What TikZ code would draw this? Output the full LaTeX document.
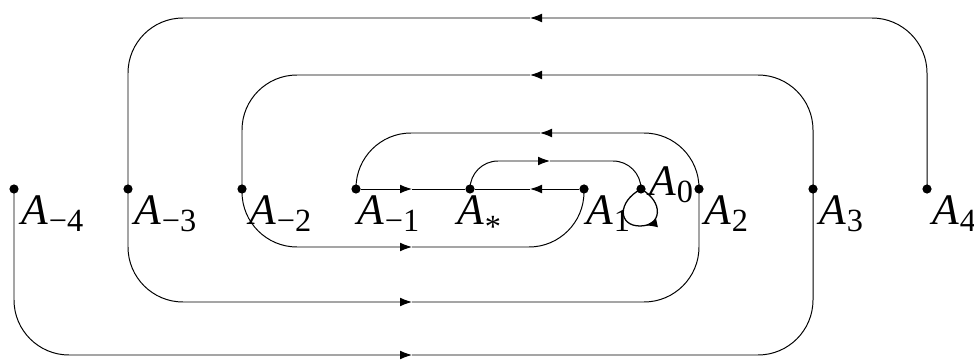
\documentclass[tikz,border=0pt]{standalone}
\usepackage{fontspec}
\setmainfont{Liberation Serif}
\usetikzlibrary{arrows.meta,decorations.markings}
\newcommand{\Alab}[2][-4.5pt]{\textit{A}\kern0.5pt\raisebox{#1}{\fontsize{23}{23}\selectfont #2}}
\begin{document}
\begin{tikzpicture}[x=0.025cm,y=-0.025cm,
  dot/.style={circle,fill=black,inner sep=0pt,minimum size=2.3mm},
  lab/.style={anchor=base west,inner sep=0pt,font=\fontsize{31}{33}\selectfont},
  wire/.style={line width=0.7pt,black},
  big/.style={wire,rounded corners=1.375cm},
  small/.style={wire,rounded corners=0.7cm},
  arrowend/.style={-{Latex[length=3mm,width=2.2mm]}},
  loopmark/.style={postaction={decorate},decoration={markings,mark=at position 0.45 with {\arrow{Latex[length=3mm,width=2.2mm]}}}}]
\useasboundingbox (0,0) rectangle (974,360);
% vertices
\node[dot] (Am4) at (14,189) {};
\node[dot] (Am3) at (128,189) {};
\node[dot] (Am2) at (242,189) {};
\node[dot] (Am1) at (356,189) {};
\node[dot] (As)  at (470,189) {};
\node[dot] (A1)  at (584,189) {};
\node[dot] (A0)  at (641,189) {};
\node[dot] (A2)  at (699,189) {};
\node[dot] (A3)  at (813,189) {};
\node[dot] (A4)  at (927,189) {};
% labels
\node[lab] (LAm4) at (21,225) {\Alab{−4}};
\node[lab] (LAm3) at (134,225) {\Alab{−3}};
\node[lab] (LAm2) at (249,225) {\Alab{−2}};
\node[lab] (LAm1) at (357,225) {\Alab{−1}};
\node[lab] (LAs)  at (457,225) {\Alab[-9pt]{*}};
\node[lab] (LA1)  at (586,225) {\Alab{1}};
\node[lab] (LA0)  at (649,196) {\Alab{0}};
\node[lab] (LA2)  at (704,225) {\Alab{2}};
\node[lab] (LA3)  at (819,225) {\Alab{3}};
\node[lab] (LA4)  at (932,225) {\Alab{4}};
% arrow positions
\coordinate (t1) at (530,18);
\coordinate (t2) at (530,75);
\coordinate (t3) at (540,133);
\coordinate (t4) at (550,161);
\coordinate (m1) at (412,189);
\coordinate (m2) at (530,189);
\coordinate (b1) at (412,247);
\coordinate (b2) at (412,302);
\coordinate (b3) at (412,355);
% top arcs
\draw[big,arrowend] (A4.center) |- (t1);
\draw[big] (t1) -| (Am3.center);
\draw[big,arrowend] (A3.center) |- (t2);
\draw[big] (t2) -| (Am2.center);
\draw[big,arrowend] (A2.center) |- (t3);
\draw[big] (t3) -| (Am1.center);
\draw[small,arrowend] (As.center) |- (t4);
\draw[small] (t4) -| (A0.center);
% middle line
\draw[wire,arrowend] (Am1) -- (m1);
\draw[wire] (m1) -- (As);
\draw[wire,arrowend] (A1) -- (m2);
\draw[wire] (m2) -- (As);
% bottom arcs
\draw[big,arrowend] (Am2.center) |- (b1);
\draw[big] (b1) -| (A1.center);
\draw[big,arrowend] (Am3.center) |- (b2);
\draw[big] (b2) -| (A2.center);
\draw[big,arrowend] (Am4.center) |- (b3);
\draw[big] (b3) -| (A3.center);
% self loop
\draw[wire,line width=0.9pt,loopmark] (A0.center) .. controls (664,202) and (662,226) .. (640,226) .. controls (618,226) and (617,202) .. (A0.center);
\end{tikzpicture}
\end{document}
